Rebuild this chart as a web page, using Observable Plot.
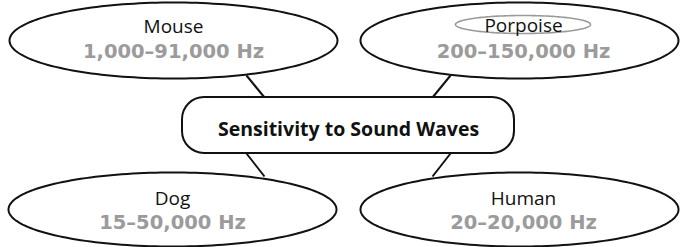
<!DOCTYPE html>
<html>
<head>
<meta charset="utf-8">
<script src="https://cdn.jsdelivr.net/npm/d3@7"></script>
<script src="https://cdn.jsdelivr.net/npm/@observablehq/plot@0.6"></script>
<style>
  html, body { margin: 0; padding: 0; background: #fff; }
  #chart svg { display: block; }
</style>
</head>
<body>
<div id="chart"></div>
<script>
// ---- data ----
const animals = ["Mouse", "Porpoise", "Dog", "Human"];
const ranges = ["1,000–91,000 Hz", "200–150,000 Hz", "15–50,000 Hz", "20–20,000 Hz"];
const centerTitle = "Sensitivity to Sound Waves";
const highlighted = ["Porpoise"];

// ---- layout (chart units = pixels) ----
const W = 680, H = 247;
const layout = {
  Mouse:    {cx: 173, cy: 40,  rx: 164, ry: 38, labelY: 32,  rangeY: 57,  side: -1, row: -1},
  Porpoise: {cx: 519, cy: 40,  rx: 159, ry: 38, labelY: 31,  rangeY: 57,  side: 1,  row: -1},
  Dog:      {cx: 172, cy: 209, rx: 164, ry: 37, labelY: 204, rangeY: 228, side: -1, row: 1},
  Human:    {cx: 519, cy: 209, rx: 159, ry: 37, labelY: 204, rangeY: 228, side: 1,  row: 1}
};
const hub = {x1: 182, x2: 514, y1: 97, y2: 153, cx: 348, baseline: 135, r: 22};

const nodes = animals.map((name, i) => ({name, range: ranges[i], ...layout[name]}));

// ellipse outlines (geometry only)
const angles = d3.range(0, 360, 2).map(d => d * Math.PI / 180);
const outline = nodes.flatMap(n => angles.map(t => ({name: n.name, x: n.cx + n.rx * Math.cos(t), y: n.cy + n.ry * Math.sin(t)})));
const hiOutline = nodes.filter(n => highlighted.includes(n.name)).flatMap(n =>
  angles.map(t => ({name: n.name, x: n.cx + 3.5 + 67.5 * Math.cos(t), y: 24 + 9 * Math.sin(t)})));

// connectors from each ellipse to the hub
const links = nodes.map(n => ({
  name: n.name,
  x1: hub.cx + n.side * 102, y1: n.row < 0 ? 75 : hub.y2,
  x2: hub.cx + n.side * 84,  y2: n.row < 0 ? hub.y1 : 176
}));

const chart = Plot.plot({
  width: W, height: H,
  margin: 0,
  x: {domain: [0, W], range: [0, W], axis: null},
  y: {domain: [0, H], range: [0, H], axis: null},
  style: {background: "#fff"},
  marks: [
    Plot.link(links, {x1: "x1", y1: "y1", x2: "x2", y2: "y2", stroke: "#111", strokeWidth: 2}),
    Plot.line(outline, {x: "x", y: "y", z: "name", curve: "linear-closed", stroke: "#111", strokeWidth: 2, fill: "#fff"}),
    Plot.line(hiOutline, {x: "x", y: "y", z: "name", curve: "linear-closed", stroke: "#9b9b9b", strokeWidth: 1.6, fill: "none"}),
    Plot.rect([centerTitle], {x1: () => hub.x1, x2: () => hub.x2, y1: () => hub.y1, y2: () => hub.y2, rx: hub.r, ry: hub.r, fill: "#fff", stroke: "#111", strokeWidth: 2}),
    Plot.text(nodes, {x: d => d.cx + (d.side > 0 ? 4 : 0), y: "labelY", text: "name", lineAnchor: "bottom", fontFamily: "Open Sans", fontSize: 19, fill: "#111"}),
    Plot.text(nodes, {x: d => d.cx + (d.side > 0 ? 4 : 0), y: "rangeY", text: "range", lineAnchor: "bottom", fontFamily: "DejaVu Sans", fontWeight: "bold", fontSize: 19.5, fill: "#9b9b9b"}),
    Plot.text([centerTitle], {x: () => hub.cx, y: () => hub.baseline, text: d => d, lineAnchor: "bottom", fontFamily: "Open Sans", fontWeight: "bold", fontSize: 19.5, fill: "#111"})
  ]
});
document.getElementById("chart").appendChild(chart);
</script>
</body>
</html>
